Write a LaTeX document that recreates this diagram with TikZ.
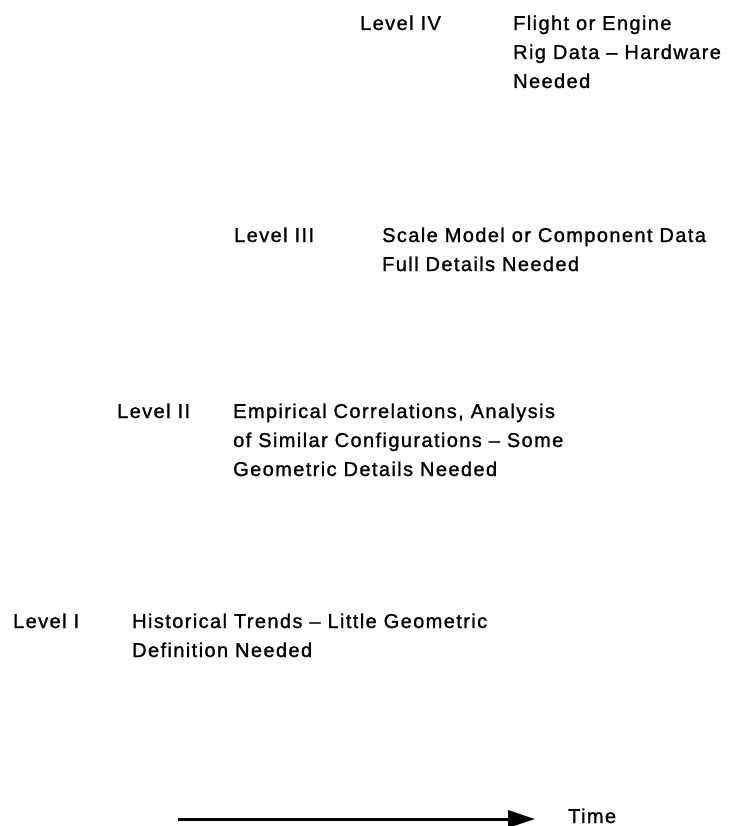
\documentclass[tikz,border=0pt]{standalone}
\usepackage{fontspec}
\setmainfont{Liberation Sans}[LetterSpace=7, FakeBold=1.2]
\usetikzlibrary{arrows.meta}

\begin{document}
\begin{tikzpicture}[
      x=1pt, y=-1pt,
      every node/.style={inner sep=0pt, anchor=base west, align=left,
        font=\fontsize{20}{29}\selectfont},
      levelname/.style={},
      leveltext/.style={},
      timearrow/.style={line width=3pt, -{Triangle[length=27pt, width=17pt]}},]
    \useasboundingbox (0,0) rectangle (730,826);
    % level IV (text nodes sit on their last line)
    \node[levelname] (lvlIV) at (360,30) {Level IV};
    \node[leveltext] (txtIV) at (513,88) {Flight or Engine\\Rig Data -- Hardware\\Needed};
    % level III
    \node[levelname] (lvlIII) at (234,242) {Level III};
    \node[leveltext] (txtIII) at (382,271) {Scale Model or Component Data\\Full Details Needed};
    % level II
    \node[levelname] (lvlII) at (117,418) {Level II};
    \node[leveltext] (txtII) at (233,476) {Empirical Correlations, Analysis\\of Similar Configurations -- Some\\Geometric Details Needed};
    % level I
    \node[levelname] (lvlI) at (13,628) {Level I};
    \node[leveltext] (txtI) at (132,657) {Historical Trends -- Little Geometric\\Definition Needed};
    % time axis
    \node (time) at (568,823) {Time};
    \coordinate (tstart) at (178,819);
    \coordinate (tend) at (535,819);
    \draw[timearrow] (tstart) -- (tend);
\end{tikzpicture}
\end{document}
